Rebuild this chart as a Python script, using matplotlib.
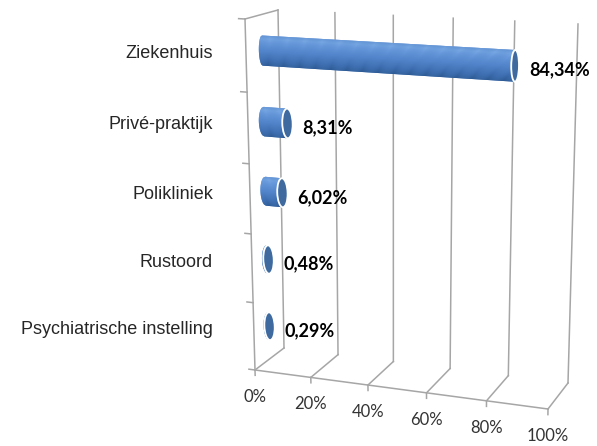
import numpy as np
import matplotlib

matplotlib.use("Agg")
import matplotlib.pyplot as plt
import matplotlib.transforms as mtransforms
from matplotlib.patches import Polygon, Ellipse
from matplotlib.colors import LinearSegmentedColormap

categories = ["Ziekenhuis", "Privé-praktijk", "Polikliniek", "Rustoord",
              "Psychiatrische instelling"]
values = [84.34, 8.31, 6.02, 0.48, 0.29]
value_labels = ["84,34%", "8,31%", "6,02%", "0,48%", "0,29%"]
x_ticks = [0, 20, 40, 60, 80, 100]
x_tick_labels = ["0%", "20%", "40%", "60%", "80%", "100%"]

W, H = 597, 446
N = len(categories)

# Corners of the 3D box (canvas pixels, y down): back wall and front plane.
BACK = {(0, 0): (284, 348), (100, 0): (568, 383), (0, N): (278, 10), (100, N): (578, 24)}
FRONT = {(0, 0): (255, 370), (100, 0): (548, 409), (0, N): (245, 19), (100, N): (554, 37)}
MID = {k: ((BACK[k][0] + FRONT[k][0]) / 2, (BACK[k][1] + FRONT[k][1]) / 2) for k in BACK}

GRID = "#a6a6a6"
CAP = "#3e6a9f"
body_cmap = LinearSegmentedColormap.from_list("cyl", [
    (0.0, "#2d5a92"), (0.2, "#3c6cae"), (0.5, "#5285cb"),
    (0.75, "#6798db"), (0.9, "#77a7e3"), (1.0, "#6a9ad8")])


def homography(corners):
    A, b = [], []
    for (x, y), (px, py) in corners.items():
        X, Y = px / W, 1 - py / H
        A.append([x, y, 1, 0, 0, 0, -X * x, -X * y]); b.append(X)
        A.append([0, 0, 0, x, y, 1, -Y * x, -Y * y]); b.append(Y)
    h = np.linalg.solve(np.array(A, float), np.array(b, float))
    return np.append(h, 1).reshape(3, 3)


class Perspective(mtransforms.Transform):
    input_dims = output_dims = 2
    is_separable = False

    def __init__(self, m):
        super().__init__()
        self.m = m

    def transform_non_affine(self, values):
        v = np.asarray(values, float).reshape(-1, 2)
        p = np.column_stack([v, np.ones(len(v))]) @ self.m.T
        return p[:, :2] / p[:, 2:]


fig = plt.figure(figsize=(W / 100, H / 100), dpi=100)
ax = fig.add_axes([0, 0, 1, 1])
ax.set_axis_off()
ax.set_xlim(0, 1)
ax.set_ylim(0, 1)

p_back, p_front, p_mid = (Perspective(homography(c)) for c in (BACK, FRONT, MID))
back = p_back + ax.transData
front = p_front + ax.transData
mid = p_mid + ax.transData


def px(dx, dy):
    return mtransforms.ScaledTranslation(dx / 100, dy / 100, fig.dpi_scale_trans)


def connect(u, v):
    b = np.ravel(p_back.transform((u, v)))
    f = np.ravel(p_front.transform((u, v)))
    ax.plot([b[0], f[0]], [b[1], f[1]], color=GRID, lw=1.1, zorder=1)


# walls, floor and grid
for u, lab in zip(x_ticks, x_tick_labels):
    ax.plot([u, u], [0, N], color=GRID, lw=1.1, transform=back, zorder=1)
    connect(u, 0)
    ax.plot([u, u], [0, -0.08], color=GRID, lw=1.1, transform=front, zorder=1)
    ax.text(u, 0, lab, transform=front + px(0, -27), ha="center", va="center",
            fontsize=12, family="Lato", color="#333333")
ax.plot([0, 100], [0, 0], color=GRID, lw=1.1, transform=front, zorder=1)
ax.plot([0, 0], [0, N], color=GRID, lw=1.1, transform=front, zorder=1)
connect(0, N)
for k in range(N + 1):
    ax.plot([0, -2.2], [k, k], color=GRID, lw=1.1, transform=front, zorder=1)

# cylinders: shaded body strips with a rounded left end, elliptical right cap
R = 0.21
ts = np.linspace(-1, 1, 31)
label_x = mtransforms.blended_transform_factory(ax.transData, mid)
for i, (cat, val, lab) in enumerate(zip(categories, values, value_labels)):
    vc = N - i - 0.5
    a = 1.9 - 0.008 * val
    xl = -a * np.sqrt(np.clip(1 - ts ** 2, 0, None))
    outline = [(x, vc + R * t) for x, t in zip(xl, ts)] + [(val, vc + R), (val, vc - R)]
    ax.add_patch(Polygon(outline, closed=True, facecolor=body_cmap(0.5),
                         edgecolor="none", transform=mid, zorder=3))
    for k in range(len(ts) - 1):
        t0, t1 = ts[k], ts[k + 1]
        col = body_cmap((t0 + t1) / 4 + 0.5)
        ax.add_patch(Polygon([(xl[k], vc + R * t0), (val, vc + R * t0),
                              (val, vc + R * t1), (xl[k + 1], vc + R * t1)],
                             closed=True, facecolor=col, edgecolor="none",
                             transform=mid, zorder=3))
    ax.add_patch(Ellipse((val, vc), 2 * a, 2 * R, facecolor=CAP,
                         edgecolor="white", lw=1.3, transform=mid, zorder=4))
    ax.text(val + a, vc, lab, transform=mid + px(10, -4), ha="left", va="center",
            fontsize=13, fontweight="bold", family="Lato", color="black")
    ax.text(213 / W, vc, cat, transform=label_x + px(0, -3), ha="right",
            va="center", fontsize=13, family="Liberation Sans", color="#262626")

ax.set_xlim(0, 1)
ax.set_ylim(0, 1)
fig.savefig("out.png", dpi=100, facecolor="white")
